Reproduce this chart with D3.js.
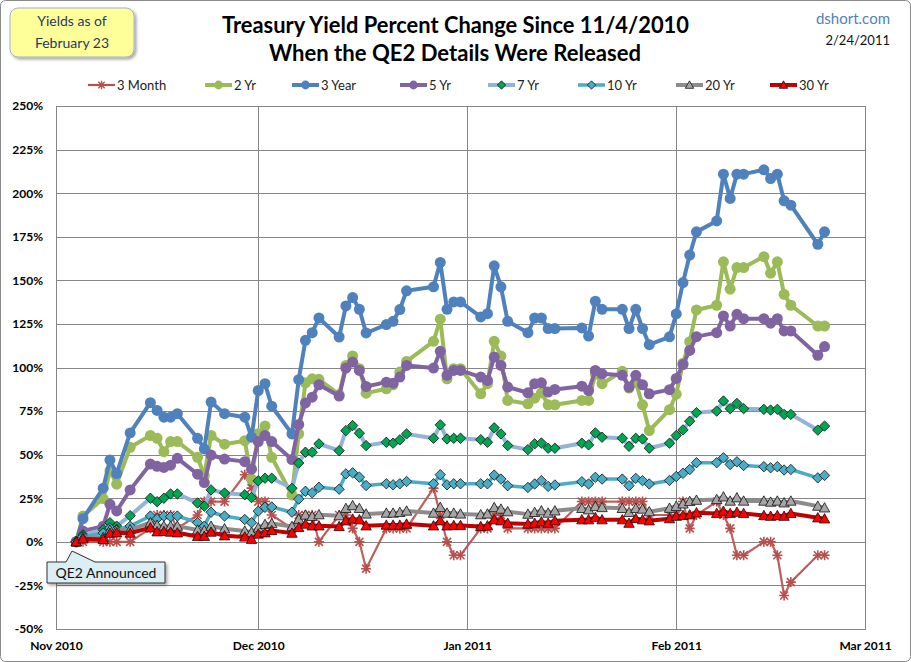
<!DOCTYPE html>
<html><head><meta charset="utf-8">
<script src="https://cdn.jsdelivr.net/npm/d3@7"></script>
<style>body{margin:0;background:#fff} svg{display:block;font-family:Lato,'Open Sans',sans-serif}</style>
</head><body><svg id="c" width="911" height="662"></svg>
<script>
// ---------- DATA ----------
const dates = [
 "2010-11-04","2010-11-05","2010-11-08","2010-11-09","2010-11-10","2010-11-12","2010-11-15","2010-11-16","2010-11-17","2010-11-18","2010-11-19","2010-11-22","2010-11-23","2010-11-24","2010-11-26","2010-11-29","2010-11-30",
 "2010-12-01","2010-12-02","2010-12-03","2010-12-06","2010-12-07","2010-12-08","2010-12-09","2010-12-10","2010-12-13","2010-12-14","2010-12-15","2010-12-16","2010-12-17","2010-12-20","2010-12-21","2010-12-22","2010-12-23","2010-12-27","2010-12-28","2010-12-29","2010-12-30","2010-12-31",
 "2011-01-03","2011-01-04","2011-01-05","2011-01-06","2011-01-07","2011-01-10","2011-01-11","2011-01-12","2011-01-13","2011-01-14","2011-01-18","2011-01-19","2011-01-20","2011-01-21","2011-01-24","2011-01-25","2011-01-26","2011-01-27","2011-01-28","2011-01-31",
 "2011-02-01","2011-02-02","2011-02-03","2011-02-04","2011-02-07","2011-02-08","2011-02-09","2011-02-10","2011-02-11","2011-02-14","2011-02-15","2011-02-16","2011-02-17","2011-02-18","2011-02-22","2011-02-23"
];
const month3 = [0,0,0,0,0,0,7.7,15.4,15.4,15.4,7.7,15.4,23.1,23.1,23.1,38.5,30.8,
 23.1,23.1,15.4,7.7,15.4,15.4,15.4,0,15.4,15.4,7.7,0,-15.4,7.7,7.7,7.7,7.7,30.8,15.4,0,-7.7,-7.7,
 7.7,7.7,15.4,15.4,7.7,7.7,7.7,7.7,7.7,7.7,23.1,23.1,23.1,23.1,23.1,23.1,23.1,23.1,15.4,15.4,
 15.4,23.1,7.7,15.4,23.1,15.4,7.7,-7.7,-7.7,0,0,-7.7,-30.8,-23.1,-7.7,-7.7];
const yr2 = [0,14.8,24.8,40.8,33.1,54.2,61,59.4,51.7,57.5,57.5,48.5,38,61,56,58,36,
 62,66.5,48.5,26.8,62,91.2,93.5,93.2,84.5,101.2,106.6,99.3,85.3,87.8,90.1,97.4,103.5,115,127.7,93.5,99.3,99.3,
 84.9,90.7,115,106.6,81.1,79.2,82.4,85.5,78.6,78.6,81.1,81.1,96.4,90.7,97.8,88.2,91.6,78.6,63.8,75.8,
 84.7,102.5,114.8,133,135.7,160.6,144.9,157.3,157.3,163.6,154.1,160.6,142,135.7,123.8,123.8];
const yr3 = [0,13.3,30.8,46.9,39.2,62.5,79.8,75.4,71.5,71.5,73.5,59.4,53.3,80.2,73.5,71.5,60,
 86.8,90.7,77.8,61.9,93,115.6,120,128.4,117.5,135.3,140.1,133.4,119.8,124.6,126.5,133.2,144,146.3,160.3,133.4,137.6,137.6,
 129,130.9,158.3,146.3,126.5,120,128.4,128.4,122.3,122.3,122.7,118,138,133.4,133.4,122.3,133.4,122.3,113.1,117.6,
 130.7,148.7,164.5,177.8,184.1,210.9,197,210.9,210.9,213.4,208.4,210.9,195.6,193.1,170.7,177.8];
const yr5 = [0,6.2,9,21.5,17.7,29.8,44.6,43.3,42.7,44,47.9,38.8,34,49.8,47.5,46,41.7,
 57.5,61,57.5,47.2,67.3,79.7,83,90.1,83.6,99.7,103.1,98.3,89.1,91.6,91,94.5,101.2,99.7,109.3,95.5,98.3,98.3,
 94.5,92.6,106,101.2,88.8,85.5,90.7,91.2,85.9,87.4,89.3,86.8,98.3,96.4,95.5,88.8,95.5,90.1,84.9,87.3,
 93.7,101.7,109.8,117.7,120,129.6,123.8,130.5,128,128,125.4,128,121,121,107,112];
const yr7 = [0,4,7,11,9,15,25,23,25,27.5,27.5,22.3,20.5,29.8,28,27,25.4,
 35,36.5,36.5,30.7,45.2,51.4,51.4,56.2,52.3,63.8,66.7,62.3,55.2,57.1,56.6,58.5,61.9,59.4,67.1,59,59.4,59.4,
 58.6,57.1,65.4,61.9,55.2,52.9,56.2,56.7,53.7,53.7,56.6,55.6,62.5,60,59.4,54.8,59.4,59,53.7,56.6,
 61,64.2,69.2,74.1,75,80.8,76.4,79.4,76.4,76,75.6,76,73.1,73.1,64.1,66.4];
const yr10 = [0,3,5,8,7,9,14.8,13.3,14.8,14.4,14.8,11,9,17,14.8,12.8,11,
 17.6,19.8,20,17,24.5,29,28.1,31.3,30.2,39,39.6,37.1,32.3,33.3,32.7,33.3,34.6,33.3,38.5,32.7,33.3,33.3,
 33.3,33.3,38.3,36,32.2,31.2,33.2,35.1,31.8,32.6,34.5,33.2,37,36,36,32.2,36.4,35.1,33.2,35.2,
 37.5,39.3,41.5,45.4,45.4,48.2,44.4,45.9,43.8,43.1,42.5,43.1,41.2,41.5,36.7,38.1];
const yr20 = [0,2.5,2.5,6.8,6.8,7,11,9.5,9,9,9,6.8,6.5,9,7.5,6.2,5.5,
 8,10,10.5,8.8,13,15.4,14.6,15.6,15,19.2,20.8,19.2,16,16.5,16.5,16.9,17.7,16.5,19.8,16.5,16.5,16,
 15.6,16,19.7,18.8,17.3,15.9,16.9,17.8,16.5,17.8,19.2,18.4,20.3,19.7,19.2,16.9,19.2,18.8,17.3,19.3,
 20.4,21.8,23.2,23.9,24.3,25.8,23.4,25.3,23.4,23.4,22.8,23.4,22.4,23.4,20.5,19.5];
const yr30 = [0,1.7,1.4,5,5.2,5,8.1,5.8,6,5.6,5.2,3.1,3.2,5.6,3.5,2.8,1.5,
 4.5,5.2,6.5,5,8.3,10.2,9.2,9.2,8.8,12.1,13.1,12.7,9.2,9.6,9.6,9.6,10.2,9.2,12.1,9.2,9.4,9.4,
 8.8,9.2,12.7,12.1,10.7,10.2,10.7,11.5,10.7,12.1,12.7,12.7,14,12.7,12.7,10.7,13.4,12.7,12.1,13.3,
 14.7,15.2,15.5,16.7,16.3,17.6,16.3,17,16.3,15.1,14.7,15.1,14.7,16.3,13.8,13.2];
const seriesNames = ["3 Month","2 Yr","3 Year","5 Yr","7 Yr","10 Yr","20 Yr","30 Yr"];
const yTicks = [-50,-25,0,25,50,75,100,125,150,175,200,225,250];
const xTicks = ["2010-11-01","2010-12-01","2011-01-01","2011-02-01","2011-03-01"];
const xDomain = ["2010-11-01","2011-03-01"];

// ---------- STYLE ----------
const parse = d3.timeParse("%Y-%m-%d");
const styles = [
 {vals:month3, color:"#B5504E", w:2.2, marker:"star", mfill:"none", mstroke:"#B5504E"},
 {vals:yr2, color:"#9BBB59", w:4, marker:"circle", mfill:"#9BBB59", mstroke:"none"},
 {vals:yr3, color:"#4F81BD", w:4, marker:"circle", mfill:"#4F81BD", mstroke:"none"},
 {vals:yr5, color:"#8064A2", w:4, marker:"circle", mfill:"#8064A2", mstroke:"none"},
 {vals:yr7, color:"#95B3D7", w:4, marker:"diamond", mfill:"#00A651", mstroke:"#111"},
 {vals:yr10, color:"#4BACC6", w:3.5, marker:"diamond", mfill:"#4BACC6", mstroke:"#111"},
 {vals:yr20, color:"#8C8C8C", w:4, marker:"triangle", mfill:"#A6A6A6", mstroke:"#111"},
 {vals:yr30, color:"#C00000", w:4, marker:"triangle", mfill:"#FF0000", mstroke:"#111"}
];
function markerPath(type, s){
  s = s||1;
  if(type==="circle") return d3.symbol(d3.symbolCircle, 95*s*s)();
  if(type==="diamond"){const r=5.2*s;return `M0,${-r}L${r},0L0,${r}L${-r},0Z`;}
  if(type==="triangle"){const r=5.2*s;return `M0,${-r}L${r},${r*0.8}L${-r},${r*0.8}Z`;}
  if(type==="star"){const r=4*s;return `M${-r},${-r}L${r},${r}M${-r},${r}L${r},${-r}M0,${-r-1}L0,${r+1}M${-r-1},0L${r+1},0`;}
}

const svg = d3.select("#c");
const defs = svg.append("defs");
const f = defs.append("filter").attr("id","sh").attr("x","-20%").attr("y","-20%").attr("width","150%").attr("height","160%");
f.append("feDropShadow").attr("dx",2).attr("dy",2).attr("stdDeviation",1.5).attr("flood-color","#000").attr("flood-opacity",0.35);

svg.append("rect").attr("x",0.5).attr("y",0.5).attr("width",910).attr("height",661).attr("rx",5)
  .attr("fill","#fff").attr("stroke","#8A8A8A");

const L=56,R=865,T=106,B=629;
const x = d3.scaleTime().domain(xDomain.map(parse)).range([L,R]);
const y = d3.scaleLinear().domain([-50,250]).range([B,T]);

// gridlines + axes
const gy = svg.append("g").attr("transform",`translate(${L},0)`)
  .call(d3.axisLeft(y).tickValues(yTicks).tickSize(-(R-L)).tickPadding(13).tickFormat(d=>d+"%"));
gy.select(".domain").remove();
gy.selectAll("line").attr("stroke","#868686").attr("shape-rendering","crispEdges");
gy.selectAll("text").attr("font-size",12).attr("font-weight",700).attr("fill","#000").attr("font-family","Lato,sans-serif");

const gx = svg.append("g").attr("transform",`translate(0,${B})`)
  .call(d3.axisBottom(x).tickValues(xTicks.map(parse)).tickSize(-(B-T)).tickPadding(12).tickFormat(d3.timeFormat("%b %Y")));
gx.select(".domain").remove();
gx.selectAll("line").attr("stroke","#868686").attr("shape-rendering","crispEdges");
gx.selectAll("text").attr("font-size",12).attr("font-weight",700).attr("fill","#000").attr("font-family","Lato,sans-serif");

svg.append("rect").attr("x",L).attr("y",T).attr("width",R-L).attr("height",B-T)
  .attr("fill","none").attr("stroke","#868686").attr("shape-rendering","crispEdges");

// series
const pdates = dates.map(parse);
const line = d3.line().x(d=>x(d.d)).y(d=>y(d.v));
styles.forEach((s,i)=>{
  const data = pdates.map((d,j)=>({d, v:s.vals[j]}));
  const g = svg.append("g");
  g.append("path").datum(data).attr("d",line).attr("fill","none").attr("stroke",s.color)
    .attr("stroke-width",s.w).attr("stroke-linejoin","round").attr("stroke-linecap","round")
    .attr("opacity", i===0?0.9:1);
  g.selectAll("path.m").data(data).join("path").attr("class","m")
    .attr("transform",d=>`translate(${x(d.d)},${y(d.v)})`)
    .attr("d",markerPath(s.marker))
    .attr("fill",s.mfill).attr("stroke",s.mstroke)
    .attr("stroke-width", s.marker==="star"?1.6:0.8);
});

// legend
const legX = [88,205,292,400,488,578,676,770];
const lg = svg.append("g");
seriesNames.forEach((n,i)=>{
  const s = styles[i], lx = legX[i], ly = 85;
  lg.append("line").attr("x1",lx).attr("x2",lx+27).attr("y1",ly).attr("y2",ly)
    .attr("stroke",s.color).attr("stroke-width",s.w);
  lg.append("path").attr("transform",`translate(${lx+13.5},${ly})`).attr("d",markerPath(s.marker,0.8))
    .attr("fill",s.mfill).attr("stroke",s.mstroke).attr("stroke-width",s.marker==="star"?1.4:0.8);
  lg.append("text").attr("x",lx+29).attr("y",ly+4.5).attr("font-size",13).attr("fill","#222").text(n);
});

// titles
svg.append("text").attr("x",455.5).attr("y",33).attr("text-anchor","middle").attr("font-size",22)
  .attr("font-weight",700).attr("textLength",467).attr("lengthAdjust","spacingAndGlyphs")
  .text("Treasury Yield Percent Change Since 11/4/2010");
svg.append("text").attr("x",455).attr("y",61).attr("text-anchor","middle").attr("font-size",22)
  .attr("font-weight",700).attr("textLength",372).attr("lengthAdjust","spacingAndGlyphs")
  .text("When the QE2 Details Were Released");
svg.append("text").attr("x",890).attr("y",24).attr("text-anchor","end").attr("font-size",15)
  .attr("fill","#4F81BD").text("dshort.com");
svg.append("text").attr("x",890).attr("y",45).attr("text-anchor","end").attr("font-size",13)
  .attr("fill","#111").text("2/24/2011");

// yellow note
svg.append("rect").attr("x",10).attr("y",8).attr("width",124).attr("height",49).attr("rx",8)
  .attr("fill","#FFFF99").attr("stroke","#9FB2CB").attr("filter","url(#sh)");
svg.append("text").attr("x",72).attr("y",26).attr("text-anchor","middle").attr("font-size",14)
  .attr("fill","#1F3A63").text("Yields as of");
svg.append("text").attr("x",72).attr("y",48).attr("text-anchor","middle").attr("font-size",14)
  .attr("fill","#1F3A63").text("February 23");

// QE2 callout
svg.append("path").attr("d","M47,562 L66,562 L72,551 L95,562 L165,562 L165,583 L47,583 Z")
  .attr("fill","#DAEEF3").attr("stroke","#333").attr("stroke-width",1).attr("filter","url(#sh)");
svg.append("text").attr("x",106).attr("y",578).attr("text-anchor","middle").attr("font-size",14)
  .attr("fill","#111").text("QE2 Announced");
</script></body></html>
